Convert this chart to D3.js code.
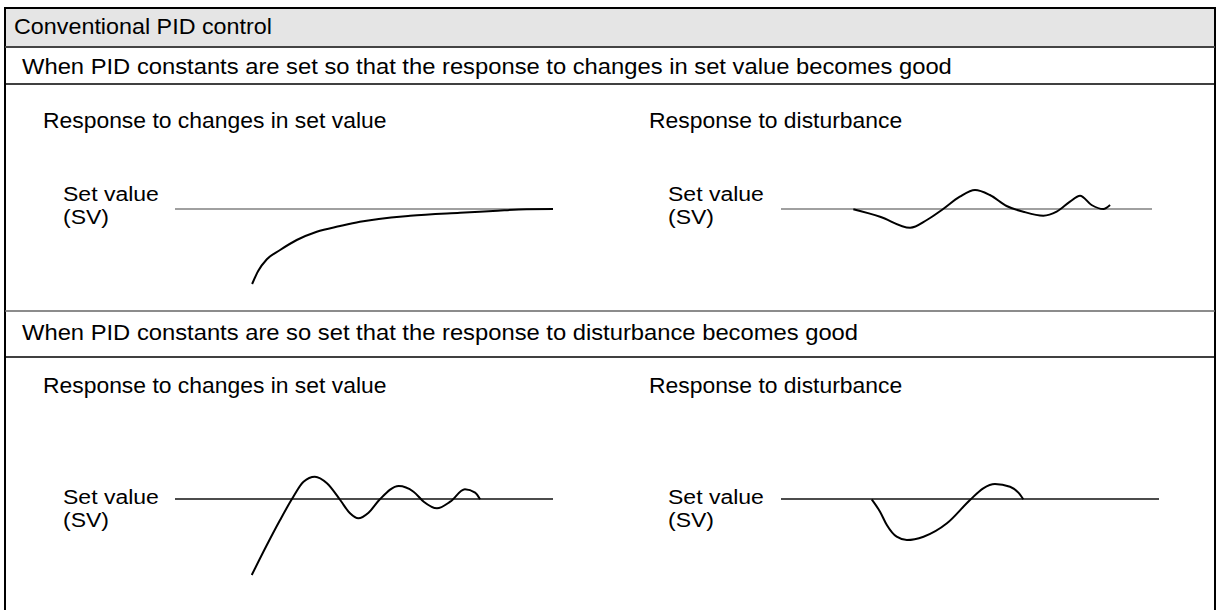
<!DOCTYPE html>
<html>
<head>
<meta charset="utf-8">
<script src="https://cdn.jsdelivr.net/npm/d3@7"></script>
<style>
  body { margin: 0; background: #fff; }
  text { font-family: "Liberation Sans", Arial, Helvetica, sans-serif; fill: #000; }
</style>
</head>
<body>
<div id="vis"></div>
<script>
'use strict';

var width = 1216, height = 610;

// texts
var title = 'Conventional PID control';
var rowTitles = [
  'When PID constants are set so that the response to changes in set value becomes good',
  'When PID constants are so set that the response to disturbance becomes good'
];
var panelTitles = ['Response to changes in set value', 'Response to disturbance'];
var svLabel = ['Set value', '(SV)'];

// process value curves, SV = 100, time 0..100 along the SV line
var setValue = 100;
var setChangeGood = [[20.4,25],[22,38],[24.3,49.7],[27.8,59],[32.2,69],[37.5,77.3],[43.7,83],
  [48.9,87.3],[62.2,93.3],[75.4,96.3],[84.1,98],[93,99.8],[100,100]];
var disturbSetGood = [[19.5,99.7],[26.7,92.3],[34.8,81.3],[39.3,89],[43.7,100],[48.2,112.3],[52.3,119],
  [56.3,114],[60.8,103],[65.3,97.3],[70.7,93.3],[74.3,97.3],[77.9,107.3],[80.6,113.3],[83.7,104],
  [86.9,100],[88.7,104]];
var setChangeDist = [[20.3,24],[24.3,54],[27.8,79],[30.9,99.7],[34,117.3],[37,122.3],[40.2,115.7],
  [43.7,99],[46.3,85.7],[48.5,80.7],[51.2,86.3],[54.2,99.7],[59.2,113],[63.1,107.3],[65.8,97.3],
  [69.3,90.7],[72.8,97.3],[76.7,109.7],[79.4,106.3],[80.7,99.7]];
var disturbDist = [[24,99.7],[26.2,87.3],[28,74],[30.6,62.3],[33.3,59],[37.7,62.3],[43.9,75.7],
  [50,99],[53.5,110.7],[56.6,115],[60.6,112.3],[62.8,106.3],[64.1,99.7]];

var panels = [
  { data: setChangeGood,  x0: 175, x1: 553,  sv: 209, label: [63, 201], title: [43, 128],  svColor: '#808080' },
  { data: disturbSetGood, x0: 781, x1: 1152, sv: 209, label: [668, 201], title: [649, 128], svColor: '#808080' },
  { data: setChangeDist,  x0: 175, x1: 553,  sv: 499, label: [63, 504], title: [43, 393],  svColor: '#111' },
  { data: disturbDist,    x0: 781, x1: 1159, sv: 499, label: [668, 504], title: [649, 393], svColor: '#111' }
];

var svg = d3.select('#vis').append('svg')
    .attr('width', width)
    .attr('height', height);

// stretched text, the source font is a bit wider than Arial
function label(x, y, str, stretch, size) {
  var t = svg.append('text')
      .attr('x', x)
      .attr('y', y)
      .style('font-size', (size || 22) + 'px')
      .text(str);
  var len = t.node().getComputedTextLength();
  t.attr('textLength', len * stretch).attr('lengthAdjust', 'spacingAndGlyphs');
  return t;
}

// frame
svg.append('rect').attr('x', 5).attr('y', 8).attr('width', 1210).attr('height', 39).attr('fill', '#e5e5e5');
svg.append('rect').attr('x', 5).attr('y', 8).attr('width', 1210).attr('height', 640)
    .attr('fill', 'none').attr('stroke', '#000').attr('stroke-width', 2);
var rules = [[47, '#444', 2], [84, '#000', 1.5], [311, '#666', 1.5], [357, '#000', 1.3]];
rules.forEach(function(r) {
  svg.append('line').attr('x1', 5).attr('x2', 1215).attr('y1', r[0]).attr('y2', r[0])
      .attr('stroke', r[1]).attr('stroke-width', r[2]);
});

label(14, 34, title, 1.06);
label(22, 74, rowTitles[0], 1.08);
label(22, 340, rowTitles[1], 1.08);

panels.forEach(function(p, i) {
  label(p.title[0], p.title[1], panelTitles[i % 2], 1.04);
  label(p.label[0], p.label[1], svLabel[0], 1.15, 20);
  label(p.label[0], p.label[1] + 22.5, svLabel[1], 1.15, 20);

  var x = d3.scaleLinear().domain([0, 100]).range([p.x0, p.x1]);
  var y = d3.scaleLinear().domain([0, 200]).range([p.sv + 100, p.sv - 100]);

  svg.append('line')
      .attr('x1', x(0)).attr('x2', x(100))
      .attr('y1', y(setValue)).attr('y2', y(setValue))
      .attr('stroke', p.svColor).attr('stroke-width', 1.5);

  var line = d3.line()
      .x(function(d) { return x(d[0]); })
      .y(function(d) { return y(d[1]); })
      .curve(d3.curveMonotoneX);

  svg.append('path')
      .datum(p.data)
      .attr('d', line)
      .attr('fill', 'none')
      .attr('stroke', '#000')
      .attr('stroke-width', 2);
});
</script>
</body>
</html>
